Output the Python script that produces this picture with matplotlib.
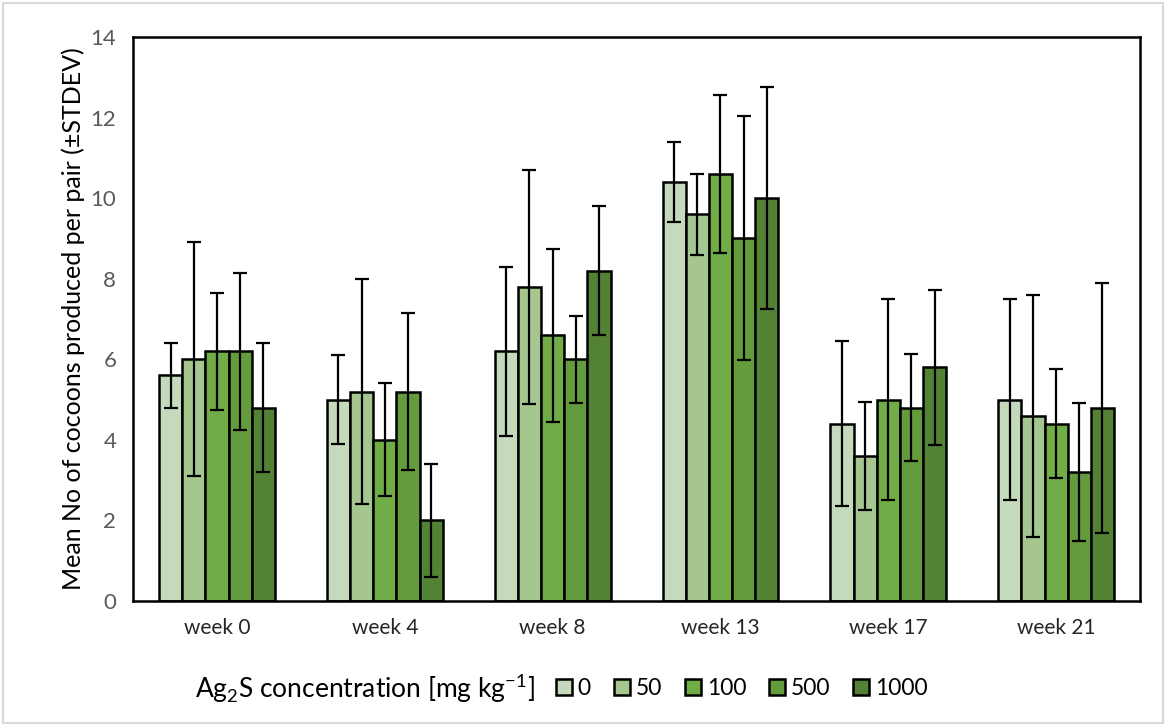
import numpy as np
import matplotlib.pyplot as plt
from matplotlib.patches import Rectangle, Patch

plt.rcParams['font.family'] = ['Lato', 'DejaVu Sans']
plt.rcParams['mathtext.fontset'] = 'custom'
plt.rcParams['mathtext.rm'] = 'Lato'

weeks = ['week 0', 'week 4', 'week 8', 'week 13', 'week 17', 'week 21']
concs = ['0', '50', '100', '500', '1000']
colors = ['#c5d9bc', '#a6c690', '#70ad47', '#649b3d', '#548235']

# mean cocoons per pair, one list per concentration
mean_0 = [5.6, 5.0, 6.2, 10.4, 4.4, 5.0]
mean_50 = [6.0, 5.2, 7.8, 9.6, 3.6, 4.6]
mean_100 = [6.2, 4.0, 6.6, 10.6, 5.0, 4.4]
mean_500 = [6.2, 5.2, 6.0, 9.0, 4.8, 3.2]
mean_1000 = [4.8, 2.0, 8.2, 10.0, 5.8, 4.8]

# standard deviations
sd_0 = [0.8, 1.1, 2.1, 1.0, 2.05, 2.5]
sd_50 = [2.9, 2.8, 2.9, 1.0, 1.35, 3.0]
sd_100 = [1.45, 1.4, 2.15, 1.95, 2.5, 1.35]
sd_500 = [1.95, 1.95, 1.08, 3.03, 1.33, 1.72]
sd_1000 = [1.6, 1.4, 1.6, 2.75, 1.93, 3.1]

means = [mean_0, mean_50, mean_100, mean_500, mean_1000]
sds = [sd_0, sd_50, sd_100, sd_500, sd_1000]

fig = plt.figure(figsize=(11.66, 7.26), dpi=100)
fig.patches.append(Rectangle((0.003, 0.004), 0.994, 0.992, transform=fig.transFigure,
                             fill=False, edgecolor='#d9d9d9', linewidth=1.5))
ax = fig.add_axes([0.1141, 0.1722, 0.8636, 0.7768])

x = np.arange(len(weeks))
width = 0.138
for i in range(len(concs)):
  off = (i - 2) * width
  ax.bar(x + off, means[i], width, color=colors[i], edgecolor='black',
         linewidth=1.8, label=concs[i], zorder=2)
  ax.errorbar(x + off, means[i], yerr=sds[i], fmt='none', ecolor='black',
              elinewidth=1.6, capsize=5, capthick=1.6, zorder=3)

ax.set_xlim(-0.5, len(weeks) - 0.5)
ax.set_ylim(0, 14)
ax.set_yticks(np.arange(0, 15, 2))
ax.set_xticks(x)
ax.set_xticklabels(weeks, fontsize=15, color='#262626')
ax.tick_params(axis='y', labelsize=16, colors='#595959', length=0, pad=12)
ax.tick_params(axis='x', length=0, pad=12)
for sp in ax.spines.values():
  sp.set_linewidth(1.8)
  sp.set_color('black')
ax.set_ylabel('Mean No of cocoons produced per pair (\u00b1STDEV)', fontsize=18,
              color='black', labelpad=4)

fig.text(0.167, 0.052, r'Ag$_\mathregular{2}$S concentration [mg kg$^\mathregular{-1}$]',
         fontsize=19, va='center', ha='left')
handles = [Patch(facecolor=colors[i], edgecolor='black', linewidth=1.8, label=concs[i])
           for i in range(len(concs))]
fig.legend(handles=handles, loc='center left', bbox_to_anchor=(0.469, 0.052),
           ncol=5, frameon=False, fontsize=16.5, handlelength=0.7, handleheight=0.7,
           handletextpad=0.25, columnspacing=1.0, borderaxespad=0)

fig.savefig('out.png', dpi=100)
